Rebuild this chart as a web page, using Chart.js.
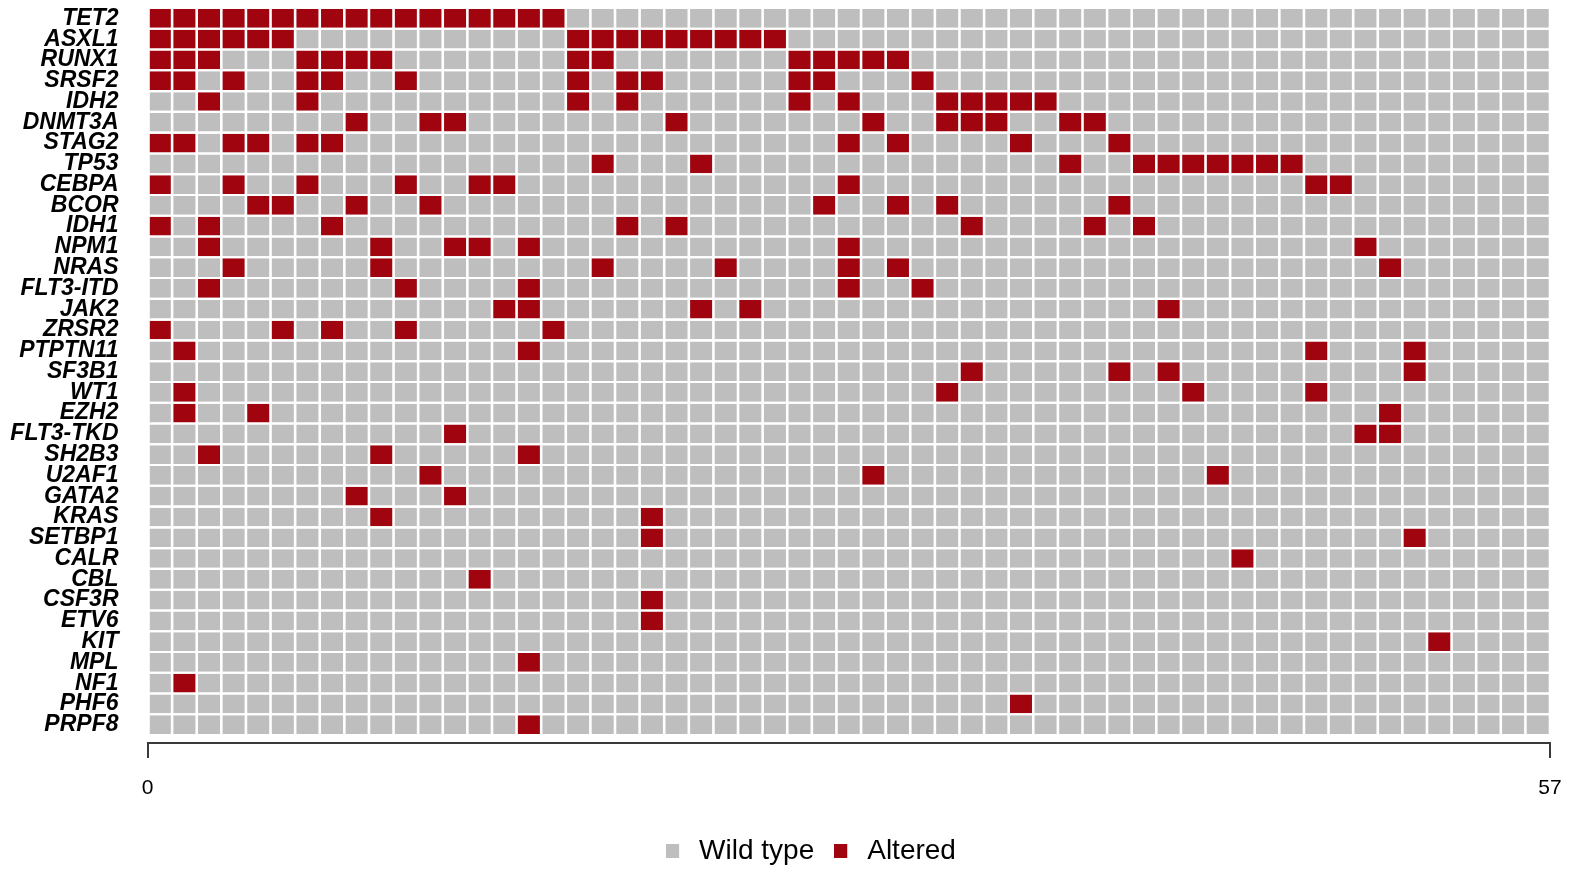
<!DOCTYPE html>
<html>
<head>
<meta charset="utf-8">
<script src="https://cdn.jsdelivr.net/npm/chart.js@4/dist/chart.umd.min.js"></script>
<style>
  html, body { margin: 0; padding: 0; background: #ffffff; }
  #wrap { width: 1573px; height: 870px; }
</style>
</head>
<body>
<div id="wrap"><canvas id="oncoprint" width="1573" height="870"></canvas></div>
<script>
// Genes, top to bottom
const genes = ['TET2', 'ASXL1', 'RUNX1', 'SRSF2', 'IDH2', 'DNMT3A', 'STAG2', 'TP53', 'CEBPA', 'BCOR',
  'IDH1', 'NPM1', 'NRAS', 'FLT3-ITD', 'JAK2', 'ZRSR2', 'PTPTN11', 'SF3B1', 'WT1', 'EZH2',
  'FLT3-TKD', 'SH2B3', 'U2AF1', 'GATA2', 'KRAS', 'SETBP1', 'CALR', 'CBL', 'CSF3R', 'ETV6',
  'KIT', 'MPL', 'NF1', 'PHF6', 'PRPF8'];

const sampleCount = 57;
const sampleTicks = [0, 57];
const statusLabels = ['Wild type', 'Altered'];

// Sample columns (0-based) carrying an alteration, one list per gene
const tet2    = [0, 1, 2, 3, 4, 5, 6, 7, 8, 9, 10, 11, 12, 13, 14, 15, 16];
const asxl1   = [0, 1, 2, 3, 4, 5, 17, 18, 19, 20, 21, 22, 23, 24, 25];
const runx1   = [0, 1, 2, 6, 7, 8, 9, 17, 18, 26, 27, 28, 29, 30];
const srsf2   = [0, 1, 3, 6, 7, 10, 17, 19, 20, 26, 27, 31];
const idh2    = [2, 6, 17, 19, 26, 28, 32, 33, 34, 35, 36];
const dnmt3a  = [8, 11, 12, 21, 29, 32, 33, 34, 37, 38];
const stag2   = [0, 1, 3, 4, 6, 7, 28, 30, 35, 39];
const tp53    = [18, 22, 37, 40, 41, 42, 43, 44, 45, 46];
const cebpa   = [0, 3, 6, 10, 13, 14, 28, 47, 48];
const bcor    = [4, 5, 8, 11, 27, 30, 32, 39];
const idh1    = [0, 2, 7, 19, 21, 33, 38, 40];
const npm1    = [2, 9, 12, 13, 15, 28, 49];
const nras    = [3, 9, 18, 23, 28, 30, 50];
const flt3Itd = [2, 10, 15, 28, 31];
const jak2    = [14, 15, 22, 24, 41];
const zrsr2   = [0, 5, 7, 10, 16];
const ptptn11 = [1, 15, 47, 51];
const sf3b1   = [33, 39, 41, 51];
const wt1     = [1, 32, 42, 47];
const ezh2    = [1, 4, 50];
const flt3Tkd = [12, 49, 50];
const sh2b3   = [2, 9, 15];
const u2af1   = [11, 29, 43];
const gata2   = [8, 12];
const kras    = [9, 20];
const setbp1  = [20, 51];
const calr    = [44];
const cbl     = [13];
const csf3r   = [20];
const etv6    = [20];
const kit     = [52];
const mpl     = [15];
const nf1     = [1];
const phf6    = [35];
const prpf8   = [15];

const alteredByGene = [tet2, asxl1, runx1, srsf2, idh2, dnmt3a, stag2, tp53, cebpa, bcor,
  idh1, npm1, nras, flt3Itd, jak2, zrsr2, ptptn11, sf3b1, wt1, ezh2,
  flt3Tkd, sh2b3, u2af1, gata2, kras, setbp1, calr, cbl, csf3r, etv6,
  kit, mpl, nf1, phf6, prpf8];

// Each cell is a floating bar spanning one sample column on its gene row
const wildCells = [];
const alteredCells = [];
genes.forEach((gene, row) => {
  const hits = alteredByGene[row];
  for (let s = 0; s < sampleCount; s++) {
    const cell = { x: [s, s + 1], y: row };
    if (hits.includes(s)) alteredCells.push(cell); else wildCells.push(cell);
  }
});

const WILD = '#bebebe';
const ALTERED = '#a0040f';
const AXIS = '#3a3a3a';
const FONT = '"Liberation Sans", Arial, Helvetica, sans-serif';
const LEGEND_LEFT = 72;

// Legend swatch: small square with transparent room on its right
function swatch(color) {
  const c = document.createElement('canvas');
  c.width = 19; c.height = 14;
  const g = c.getContext('2d');
  g.fillStyle = color;
  g.fillRect(0, 0, 13, 14);
  return c;
}

// Legend row is centred under the grid rather than under the whole canvas
const legendInset = {
  id: 'legendInset',
  afterLayout(chart) {
    if (chart.legend) chart.legend.left = LEGEND_LEFT;
  }
};

const cellStyle = {
  borderColor: '#ffffff',
  borderWidth: { left: 1.3, right: 1.3, top: 0, bottom: 0 },
  borderSkipped: false,
  barPercentage: 0.9,
  categoryPercentage: 1,
  grouped: false
};

new Chart(document.getElementById('oncoprint'), {
  type: 'bar',
  data: {
    datasets: [
      Object.assign({ label: statusLabels[0], data: wildCells, backgroundColor: WILD }, cellStyle),
      Object.assign({ label: statusLabels[1], data: alteredCells, backgroundColor: ALTERED }, cellStyle)
    ]
  },
  plugins: [legendInset],
  options: {
    indexAxis: 'y',
    responsive: false,
    animation: false,
    devicePixelRatio: 1,
    layout: { padding: { top: 8, right: 23, left: 0, bottom: -5 } },
    plugins: {
      tooltip: { enabled: false },
      legend: {
        position: 'bottom',
        align: 'center',
        labels: {
          usePointStyle: true,
          pointStyleWidth: 19,
          boxHeight: 14,
          padding: 20,
          color: '#000000',
          font: { family: FONT, size: 28 },
          generateLabels: chart => chart.data.datasets.map((ds, i) => ({
            text: ds.label,
            pointStyle: swatch(ds.backgroundColor),
            fillStyle: ds.backgroundColor,
            strokeStyle: ds.backgroundColor,
            lineWidth: 0,
            hidden: false,
            datasetIndex: i
          }))
        }
      }
    },
    scales: {
      x: {
        type: 'linear',
        position: 'bottom',
        min: 0,
        max: sampleCount,
        afterBuildTicks: scale => { scale.ticks = sampleTicks.map(v => ({ value: v })); },
        afterFit: scale => {
          scale.height = 74;
          scale.paddingLeft = 0;
          scale.paddingRight = 0;
        },
        grid: { drawOnChartArea: false, drawTicks: true, tickLength: 15, color: AXIS, lineWidth: 2 },
        border: { display: true, color: AXIS, width: 2 },
        ticks: { color: '#000000', font: { family: FONT, size: 21 }, padding: 18, maxRotation: 0, autoSkip: false }
      },
      y: {
        type: 'linear',
        reverse: true,
        offset: false,
        min: -0.5,
        max: genes.length - 0.12,
        afterBuildTicks: scale => { scale.ticks = genes.map((g, i) => ({ value: i })); },
        afterFit: scale => {
          scale.width = 147.5;
          scale.paddingTop = 0;
          scale.paddingBottom = 0;
        },
        grid: { display: false, drawTicks: false },
        border: { display: false },
        ticks: {
          color: '#000000',
          autoSkip: false,
          padding: 29,
          font: { family: FONT, size: 23, weight: 'bold', style: 'italic' },
          callback: value => genes[value]
        }
      }
    }
  }
});
</script>
</body>
</html>
